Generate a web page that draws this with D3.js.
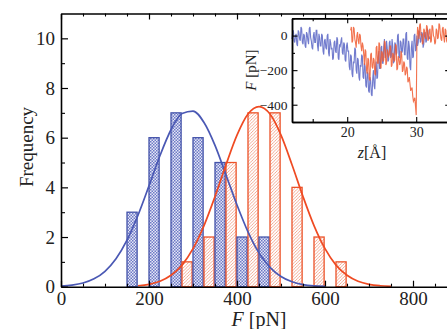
<!DOCTYPE html>
<html><head><meta charset="utf-8">
<script src="https://cdn.jsdelivr.net/npm/d3@7"></script>
<style>
html,body{margin:0;padding:0;background:#fff;}
svg{display:block;font-family:"Liberation Serif","Times New Roman",serif;}
</style></head>
<body>
<svg id="c" width="447" height="329"></svg>
<script>
// ---------- Data ----------
const binStarts   = [150, 200, 250, 300, 350, 400, 450, 500, 550, 600];
const blueCounts  = [3, 6, 7, 6, 5, 2, 2, 0, 0, 0];
const redCounts   = [0, 0, 1, 2, 5, 7, 7, 4, 2, 1];

const blueFitF = [0,25,50,75,100,125,150,175,200,225,250,275,300,325,350,375,400,425,450,475,500,525,550,575,600];
const blueFitY = [0.025,0.064,0.148,0.316,0.62,1.125,1.875,2.875,4.06,5.28,6.32,6.97,7.07,6.61,5.69,4.50,3.29,2.21,1.36,0.78,0.41,0.197,0.087,0.036,0.014];
const redFitF  = [175,200,225,250,275,300,325,350,375,400,425,450,475,500,525,550,575,600,625,650,675,700,725,750];
const redFitY  = [0.039,0.096,0.22,0.46,0.87,1.53,2.46,3.63,4.91,6.10,6.95,7.25,6.95,6.10,4.91,3.63,2.46,1.53,0.87,0.46,0.22,0.096,0.039,0.014];

const xMajorTicks = [0, 200, 400, 600, 800];
const yMajorTicks = [0, 2, 4, 6, 8, 10];

// inset traces: force F [pN] vs z [Å], sampled every 0.1 Å
const blueTraceZ0 = 12.0, redTraceZ0 = 20.5, traceStep = 0.1;
const blueTrace = [
  -20, 20, 30, -30, -40, 0, 10, -50, -60, 30,
  20, -20, -30, 50, 40, -40, -50, 10, 0, -60,
  -70, 20, 10, -30, -50, 40, 50, -10, -30, -70,
  -80, 0, 20, -40, -40, 30, 30, -60, -90, 10,
  -10, -60, -60, 10, 0, -90, -110, -30, -20, -70,
  -80, 0, 10, -100, -120, -20, -40, -80, -70, -140,
  -130, -40, -30, -90, -100, -10, -20, -130, -140, -50,
  -60, -30, -10, -100, -110, -40, -50, -140, -150, -60,
  -40, -90, -90, -180, -200, -110, -120, -220, -240, -150,
  -160, -70, -80, -200, -220, -130, -140, -240, -260, -170,
  -180, -110, -120, -240, -250, -160, -180, -290, -300, -210,
  -220, -320, -330, -240, -260, -340, -350, -250, -200, -290,
  -310, -200, -150, -250, -240, -120, -90, -190, -190, -70,
  -60, -160, -160, -60, -20, -130, -120, -30, -70, -150,
  -140, -40, -30, -130, -120, -20, -60, -160, -150, -40,
  -50, -110, -100, 0, 10, -120, -130, -30, -40, -100,
  -90, -20, -20, -110, -110, 10, 20, -130, -140, -30,
  -60, -180, -200, -70, -30, -130, -120, 0, 10, -90,
  -80, 0, -60, -40, 30, 20, -40, -30, 20, 10,
  -70, -50, 10, 20, -40, -30, 40, 30, -20, -10,
  -20
];
const redTrace = [
  30, 50, -40, -30, 50, 40, -20, -40, -70, 0,
  20, -30, -50, 10, 0, -60, -90, -40, -60, -110,
  -170, -80, -90, -200, -220, -130, -140, -250, -260, -110,
  -100, -180, -190, -130, -140, -220, -230, -70, -60, -160,
  -160, -40, -50, -180, -190, -90, -100, -150, -140, -30,
  -40, -170, -160, -80, -90, -120, -110, -60, -60, -180,
  -170, -100, -110, -150, -140, -50, -60, -200, -190, -120,
  -130, -170, -160, -90, -110, -210, -200, -150, -160, -230,
  -220, -180, -190, -270, -260, -240, -280, -320, -310, -300,
  -350, -380, -370, -360, -410, -460,
  -40, 50, 20, -20, 60, 70, 0, 10, -50, -40,
  40, 30, -10, -20, 60, 50, -30, -20, 30, 40,
  -40, -30, 60, 50, 0, -10, -50, -40, 40, 30,
  -20, -10, 70, 60, 10, -20, -30, 40, 50, -10,
  -40, 40, 30, -30, -40, 20, 20, 0, 10, -20
];
const insetXTicks = [20, 30];
const insetXMinor = [15, 25, 35];
const insetYTicks = [0, -200, -400];
const insetYMinor = [100, -100, -300, -500];

// ---------- Styles ----------
const BLUE = "#4453aa", RED = "#ec5228";
const BLUE_LINE = "#4a58b4", RED_LINE = "#ef4a22";

const svg = d3.select("#c");
const defs = svg.append("defs");
const pb = defs.append("pattern").attr("id","chk").attr("patternUnits","userSpaceOnUse")
  .attr("width",3).attr("height",3);
pb.append("rect").attr("width",3).attr("height",3).attr("fill","#e6e8f6");
pb.append("rect").attr("width",1.5).attr("height",1.5).attr("fill","#6d79c6");
pb.append("rect").attr("x",1.5).attr("y",1.5).attr("width",1.5).attr("height",1.5).attr("fill","#6d79c6");
const pr = defs.append("pattern").attr("id","hatch").attr("patternUnits","userSpaceOnUse")
  .attr("width",3.2).attr("height",3.2);
pr.append("rect").attr("width",3.2).attr("height",3.2).attr("fill","#fff");
pr.append("path").attr("d","M-0.8,0.8 L0.8,-0.8 M0,3.2 L3.2,0 M2.4,4 L4,2.4")
  .attr("stroke","#f0957a").attr("stroke-width",0.8);

// ---------- Main scales ----------
const x = d3.scaleLinear().domain([0, 900]).range([61, 457]);
const y = d3.scaleLinear().domain([0, 11]).range([286.7, 13.5]);

// bars
const g = svg.append("g");
binStarts.forEach((s, i) => {
  if (blueCounts[i] > 0) {
    g.append("rect").attr("x", x(s)).attr("width", x(s + 23) - x(s))
      .attr("y", y(blueCounts[i])).attr("height", y(0) - y(blueCounts[i]))
      .attr("fill","url(#chk)").attr("stroke",BLUE).attr("stroke-width",1.3);
  }
  if (redCounts[i] > 0) {
    g.append("rect").attr("x", x(s + 25)).attr("width", x(s + 48) - x(s + 25))
      .attr("y", y(redCounts[i])).attr("height", y(0) - y(redCounts[i]))
      .attr("fill","url(#hatch)").attr("stroke",RED).attr("stroke-width",1.3);
  }
});

// fit curves
const line = d3.line().x(d => x(d[0])).y(d => y(d[1])).curve(d3.curveMonotoneX);
g.append("path").datum(blueFitF.map((f,i)=>[f, blueFitY[i]])).attr("d", line)
  .attr("fill","none").attr("stroke",BLUE_LINE).attr("stroke-width",1.7);
g.append("path").datum(redFitF.map((f,i)=>[f, redFitY[i]])).attr("d", line)
  .attr("fill","none").attr("stroke",RED_LINE).attr("stroke-width",1.7);

// axes
const minorX = d3.range(0, 901, 50).filter(v => !xMajorTicks.includes(v));
const minorY = d3.range(1, 11, 2);
function styleAxis(sel){
  sel.selectAll(".domain").attr("stroke","#000").attr("stroke-width",1.6);
  sel.selectAll(".tick line").attr("stroke","#000").attr("stroke-width",1.2);
  sel.selectAll("text").attr("fill","#222").style("font-size","19px")
    .style("font-family",'"Liberation Serif","Times New Roman",serif');
}
const axB = svg.append("g").attr("transform",`translate(0,${y(0)})`)
  .call(d3.axisBottom(x).tickValues(xMajorTicks).tickSize(-6).tickPadding(5).tickSizeOuter(0));
styleAxis(axB);
svg.append("g").attr("transform",`translate(0,${y(0)})`)
  .call(d3.axisBottom(x).tickValues(minorX).tickSize(-3).tickFormat("").tickSizeOuter(0))
  .call(s=>{s.select(".domain").remove(); s.selectAll("line").attr("stroke","#000").attr("stroke-width",1.1);});
const axT = svg.append("g").attr("transform",`translate(0,${y(11)})`)
  .call(d3.axisTop(x).tickValues(xMajorTicks).tickSize(-6).tickFormat("").tickSizeOuter(0));
styleAxis(axT);
svg.append("g").attr("transform",`translate(0,${y(11)})`)
  .call(d3.axisTop(x).tickValues(minorX).tickSize(-3).tickFormat("").tickSizeOuter(0))
  .call(s=>{s.select(".domain").remove(); s.selectAll("line").attr("stroke","#000").attr("stroke-width",1.1);});
const axL = svg.append("g").attr("transform",`translate(${x(0)},0)`)
  .call(d3.axisLeft(y).tickValues(yMajorTicks).tickSize(-7).tickPadding(6).tickSizeOuter(0));
styleAxis(axL);
svg.append("g").attr("transform",`translate(${x(0)},0)`)
  .call(d3.axisLeft(y).tickValues(minorY).tickSize(-4).tickFormat("").tickSizeOuter(0))
  .call(s=>{s.select(".domain").remove(); s.selectAll("line").attr("stroke","#000").attr("stroke-width",1.1);});

// axis labels
svg.append("text").attr("transform","translate(33,147) rotate(-90)").attr("text-anchor","middle")
  .style("font-size","19px").attr("fill","#222").text("Frequency");
const xl = svg.append("text").attr("x",259).attr("y",326).attr("text-anchor","middle")
  .style("font-size","20px").attr("fill","#222");
xl.append("tspan").style("font-style","italic").text("F");
xl.append("tspan").text(" [pN]");

// ---------- Inset ----------
const ix = d3.scaleLinear().domain([12, 35]).range([292, 450.7]);
const iy = d3.scaleLinear().domain([-500, 100]).range([122, 18.3]);
const ig = svg.append("g");
ig.append("rect").attr("x",ix(12)).attr("y",iy(100)).attr("width",ix(35)-ix(12)).attr("height",iy(-500)-iy(100))
  .attr("fill","#fff");
const tline = d3.line().x(d=>ix(d[0])).y(d=>iy(d[1]));
ig.append("path").datum(blueTrace.map((v,i)=>[blueTraceZ0 + i*traceStep, v])).attr("d", tline)
  .attr("fill","none").attr("stroke","#5864c4").attr("stroke-width",1.1).attr("stroke-opacity",0.85);
ig.append("path").datum(redTrace.map((v,i)=>[redTraceZ0 + i*traceStep, v])).attr("d", tline)
  .attr("fill","none").attr("stroke","#f05a30").attr("stroke-width",1.1).attr("stroke-opacity",0.85);

function smallAxis(sel, size){
  sel.selectAll(".domain").attr("stroke","#000").attr("stroke-width",1.5);
  sel.selectAll(".tick line").attr("stroke","#000").attr("stroke-width",1.1);
  sel.selectAll("text").attr("fill","#222").style("font-size",size+"px")
    .style("font-family",'"Liberation Serif","Times New Roman",serif');
}
ig.append("g").attr("transform",`translate(0,${iy(-500)})`)
  .call(d3.axisBottom(ix).tickValues(insetXTicks).tickSize(-5).tickPadding(5.5).tickSizeOuter(0)).call(s=>smallAxis(s,14));
ig.append("g").attr("transform",`translate(0,${iy(-500)})`)
  .call(d3.axisBottom(ix).tickValues(insetXMinor).tickSize(-3).tickFormat("").tickSizeOuter(0)).call(s=>smallAxis(s,14));
ig.append("g").attr("transform",`translate(0,${iy(100)})`)
  .call(d3.axisTop(ix).tickValues(insetXTicks).tickSize(-5).tickFormat("").tickSizeOuter(0)).call(s=>smallAxis(s,14));
ig.append("g").attr("transform",`translate(0,${iy(100)})`)
  .call(d3.axisTop(ix).tickValues(insetXMinor).tickSize(-3).tickFormat("").tickSizeOuter(0)).call(s=>smallAxis(s,14));
ig.append("g").attr("transform",`translate(${ix(12)},0)`)
  .call(d3.axisLeft(iy).tickValues(insetYTicks).tickSize(-5.5).tickPadding(4.5).tickSizeOuter(0)).call(s=>smallAxis(s,13.5));
ig.append("g").attr("transform",`translate(${ix(12)},0)`)
  .call(d3.axisLeft(iy).tickValues(insetYMinor).tickSize(-3).tickFormat("").tickSizeOuter(0)).call(s=>smallAxis(s,13.5));
ig.append("g").attr("transform",`translate(${ix(35)},0)`)
  .call(d3.axisRight(iy).tickValues(insetYTicks).tickSize(-5.5).tickFormat("").tickSizeOuter(0)).call(s=>smallAxis(s,13.5));
ig.append("g").attr("transform",`translate(${ix(35)},0)`)
  .call(d3.axisRight(iy).tickValues(insetYMinor).tickSize(-3).tickFormat("").tickSizeOuter(0)).call(s=>smallAxis(s,13.5));

const izl = ig.append("text").attr("x",372).attr("y",158).attr("text-anchor","middle")
  .style("font-size","16px").attr("fill","#222");
izl.append("tspan").style("font-style","italic").text("z");
izl.append("tspan").text("[Å]");
const iyl = ig.append("text").attr("transform","translate(256,70) rotate(-90)").attr("text-anchor","middle")
  .style("font-size","15px").attr("fill","#222");
iyl.append("tspan").style("font-style","italic").text("F");
iyl.append("tspan").text(" [pN]");
</script>
</body></html>
